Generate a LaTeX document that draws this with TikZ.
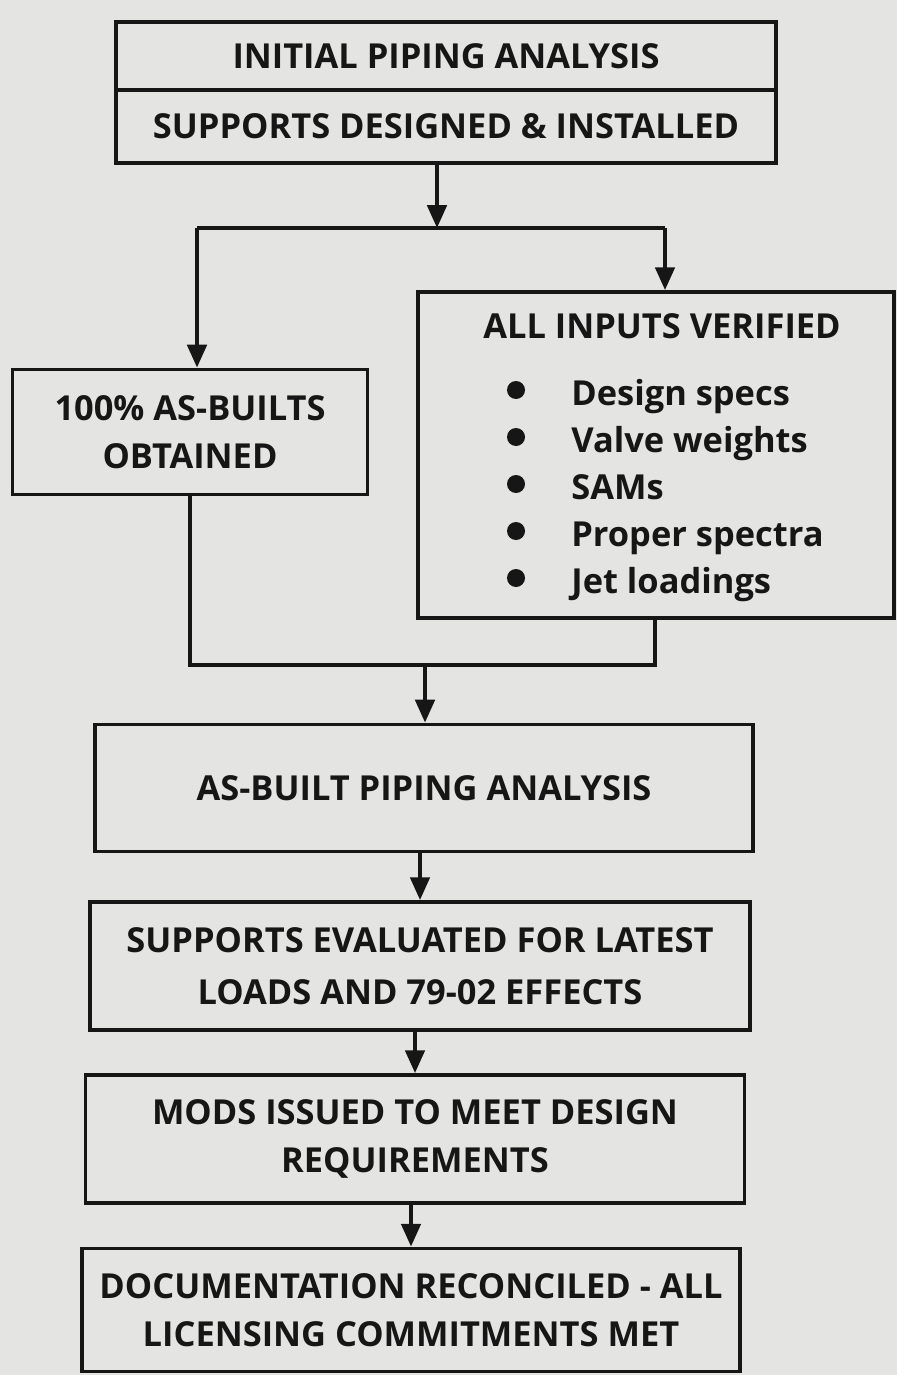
\documentclass[tikz,border=0pt]{standalone}
\usepackage{fontspec}
\setmainfont{Open Sans}
\usetikzlibrary{arrows.meta,positioning}
\definecolor{paper}{RGB}{228,228,226}
\definecolor{ink}{RGB}{22,22,22}
\tikzset{
  flowbox/.style={draw=ink, line width=2.2pt, align=center, text=ink,
    font=\fontsize{19.6}{27}\selectfont\bfseries},
  itemtext/.style={anchor=base west, text=ink, inner sep=0pt,
    font=\fontsize{19.6}{27}\selectfont\bfseries},
  arr/.style={draw=ink, line width=2.2pt, -{Triangle[length=13pt,width=11pt]}},
  link/.style={draw=ink, line width=2.2pt}
}

\begin{document}
\begin{tikzpicture}[x=0.02cm,y=-0.02cm]
  % paper
  \fill[paper] (0,0) rectangle (897,1375);

  % first step
  \node[flowbox, minimum width=13.2cm, minimum height=1.36cm] (init) at (446,56) {INITIAL PIPING ANALYSIS};
  \node[flowbox, minimum width=13.2cm, minimum height=1.46cm] (supp) at (446,126.5) {SUPPORTS DESIGNED \& INSTALLED};

  % two branches
  \node[flowbox, minimum width=7.1cm, minimum height=2.5cm] (asb) at (190,432) {100\% AS-BUILTS\\OBTAINED};
  \node[flowbox, minimum width=9.52cm, minimum height=6.52cm] (inp) at (656,455) {};
  \node[itemtext, anchor=base] (inptitle) at (662,338) {ALL INPUTS VERIFIED};
  \foreach \txt [count=\i] in {Design specs, Valve weights, SAMs, Proper spectra, Jet loadings} {
    \fill[ink] (516,{358+47*\i-15}) circle (9);
    \node[itemtext] (item\i) at (571,{358+47*\i}) {\txt};
  }

  % split
  \coordinate (split) at (437,228);
  \coordinate (splitL) at (197,228);
  \coordinate (splitR) at (665,228);
  \draw[arr] (split |- supp.south) -- (split);
  \draw[link] (splitL) -- (splitR);
  \draw[arr] (splitL) -- (splitL |- asb.north);
  \draw[arr] (splitR) -- (splitR |- inp.north);

  % join
  \coordinate (join) at (425,665);
  \coordinate (joinR) at (655,665);
  \draw[link] (asb.south) |- (joinR) -- (joinR |- inp.south);

  % remaining steps
  \node[flowbox, minimum width=13.16cm, minimum height=2.54cm] (ab) at (424,788) {AS-BUILT PIPING ANALYSIS};
  \node[flowbox, minimum width=13.2cm, minimum height=2.56cm, font=\fontsize{19.6}{29.5}\selectfont\bfseries] (eval) at (420,966) {SUPPORTS EVALUATED FOR LATEST\\LOADS AND 79-02 EFFECTS};
  \node[flowbox, minimum width=13.18cm, minimum height=2.56cm] (mods) at (415,1139) {MODS ISSUED TO MEET DESIGN\\REQUIREMENTS};
  \node[flowbox, minimum width=13.16cm, minimum height=2.46cm] (doc) at (411,1310) {DOCUMENTATION RECONCILED - ALL\\LICENSING COMMITMENTS MET};

  \draw[arr] (join) -- (join |- ab.north);
  \draw[arr] (ab.south -| eval.north) -- (eval.north);
  \draw[arr] (eval.south -| mods.north) -- (mods.north);
  \draw[arr] (mods.south -| doc.north) -- (doc.north);
\end{tikzpicture}
\end{document}
